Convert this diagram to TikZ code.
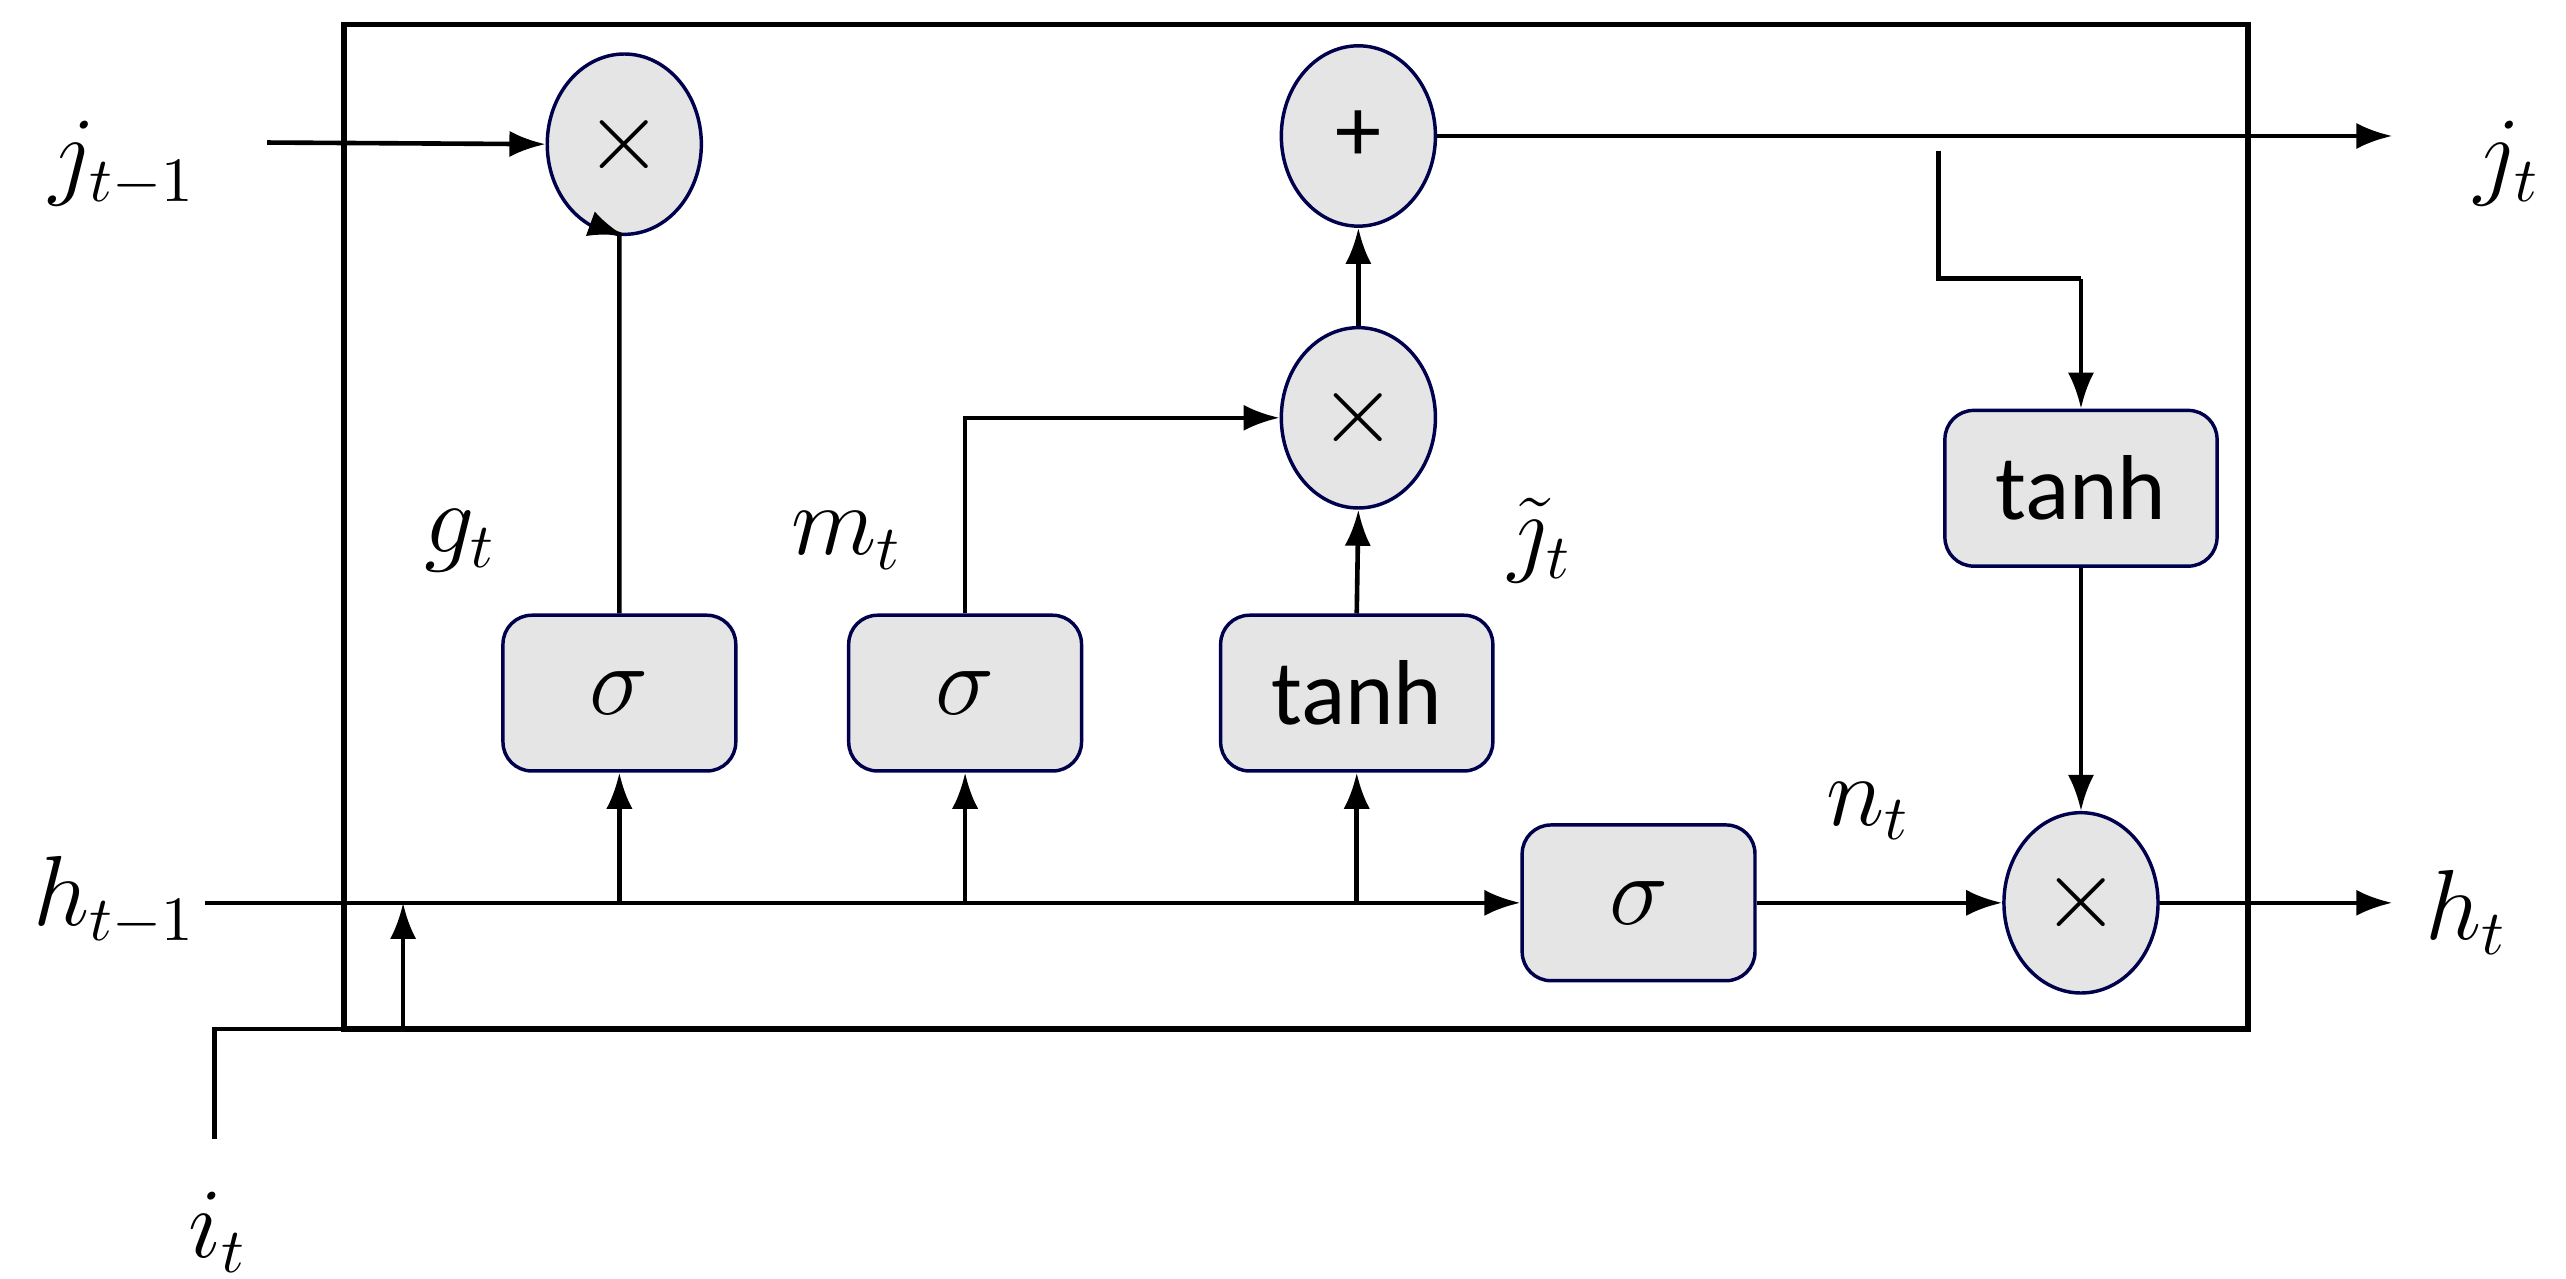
\documentclass[tikz,border=0pt]{standalone}
\usepackage{fontspec}
\usepackage{amsmath}
\newfontfamily\boxfont{Carlito}
\usetikzlibrary{arrows.meta,shapes.geometric}
\begin{document}
\begin{tikzpicture}[x=0.01cm,y=-0.01cm,
  every node/.style={font=\fontsize{16}{19}\selectfont},
  op/.style={ellipse,draw=black!70!blue,fill=black!10,minimum width=0.94cm,minimum height=1.1cm,inner sep=0pt,line width=0.6pt},
  act/.style={rectangle,rounded corners=5pt,draw=black!70!blue,fill=black!10,minimum width=1.42cm,minimum height=0.95cm,line width=0.6pt},
  wire/.style={line width=0.8pt},
  arr/.style={wire,-{Latex[length=2.2mm,width=1.6mm]}}]
\useasboundingbox (0,0) rectangle (1566,780);
\draw[line width=1pt] (210,15) rectangle (1372,628);
% operation nodes
\node[op] (mulf) at (381,88) {$\times$};
\node[op] (add) at (829,83) {\boxfont +};
\node[op] (muli) at (829,255) {$\times$};
\node[op] (mulo) at (1270,551) {$\times$};
% activation nodes
\node[act] (sg) at (378,423) {$\sigma$};
\node[act] (sm) at (589,423) {$\sigma$};
\node[act,minimum width=1.66cm] (th) at (828,423) {\boxfont tanh};
\node[act] (sn) at (1000,551) {$\sigma$};
\node[act,minimum width=1.66cm] (tho) at (1270,298) {\boxfont tanh};
% labels
\node (jin) at (75,100) {$j_{t-1}$};
\node (jout) at (1530,100) {$j_t$};
\node (hin) at (70,550) {$h_{t-1}$};
\node (hout) at (1505,557) {$h_t$};
\node (iin) at (133,752) {$i_t$};
\node (lg) at (281,330) {$g_t$};
\node (lm) at (517,330) {$m_t$};
\node (lj) at (940,330) {$\tilde{\jmath}_t$};
\node (ln) at (1140,495) {$n_t$};
% coordinates
\coordinate (jst) at (163,87);
\coordinate (jend) at (1460,83);
\coordinate (hst) at (125,551);
\coordinate (hend) at (1460,551);
\coordinate (ist) at (131,695);
\coordinate (br) at (1183,92);
% connectors
\draw[arr] (jst) -- (mulf.west);
\draw[arr] (add.east) -- (jend);
\draw[wire] (br) -- (1183,170) -- (1270,170);
\draw[arr] (1270,170) -- (tho.north);
\draw[arr] (tho.south) -- (mulo.north);
\draw[arr] (hst) -- (sn.west);
\draw[arr] (sn.east) -- (mulo.west);
\draw[arr] (mulo.east) -- (hend);
\draw[arr] (ist) -- (131,628) -| (246,551);
\draw[arr] (378,551) -- (sg.south);
\draw[arr] (589,551) -- (sm.south);
\draw[arr] (828,551) -- (th.south);
\draw[arr] (sg.north) -- (378,143) -- (mulf.south);
\draw[arr] (sm.north) |- (muli.west);
\draw[arr] (th.north) -- (muli.south);
\draw[arr] (muli.north) -- (add.south);
\end{tikzpicture}
\end{document}
